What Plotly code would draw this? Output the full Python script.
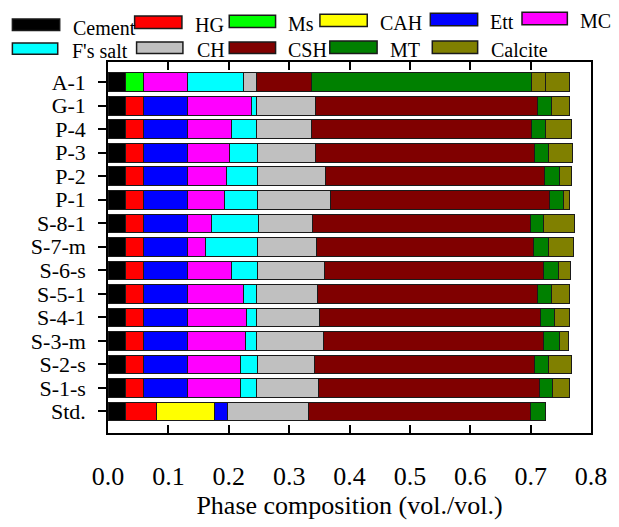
import plotly.graph_objects as go

# Sample names, listed top to bottom
samples = ["A-1", "G-1", "P-4", "P-3", "P-2", "P-1", "S-8-1", "S-7-m",
           "S-6-s", "S-5-1", "S-4-1", "S-3-m", "S-2-s", "S-1-s", "Std."]

# Phase volume fractions (vol./vol.) per sample, same order as samples
cement = [0.029] * 15
hg = [0.0, 0.029, 0.029, 0.029, 0.029, 0.029, 0.029, 0.029,
      0.029, 0.029, 0.029, 0.029, 0.029, 0.029, 0.051]
ms = [0.029, 0, 0, 0, 0, 0, 0, 0, 0, 0, 0, 0, 0, 0, 0]
cah = [0, 0, 0, 0, 0, 0, 0, 0, 0, 0, 0, 0, 0, 0, 0.097]
ett = [0.0, 0.074, 0.074, 0.074, 0.074, 0.074, 0.074, 0.074,
       0.074, 0.074, 0.074, 0.074, 0.074, 0.074, 0.021]
mc = [0.074, 0.106, 0.072, 0.069, 0.065, 0.061, 0.039, 0.029,
      0.072, 0.092, 0.097, 0.096, 0.087, 0.088, 0.0]
fs_salt = [0.093, 0.008, 0.042, 0.046, 0.050, 0.054, 0.078, 0.087,
           0.043, 0.022, 0.017, 0.018, 0.028, 0.026, 0.0]
ch = [0.021, 0.098, 0.091, 0.096, 0.113, 0.121, 0.089, 0.098,
      0.112, 0.101, 0.105, 0.111, 0.095, 0.102, 0.134]
csh = [0.091, 0.367, 0.364, 0.364, 0.363, 0.363, 0.361, 0.359,
       0.363, 0.365, 0.366, 0.365, 0.365, 0.366, 0.368]
mt = [0.365, 0.023, 0.023, 0.023, 0.024, 0.023, 0.023, 0.024,
      0.024, 0.023, 0.023, 0.025, 0.023, 0.022, 0.024]
calcite = [0.023, 0.030, 0.044, 0.039, 0.020, 0.011, 0.051, 0.042,
           0.020, 0.029, 0.025, 0.016, 0.037, 0.028, 0.0]
calcite_extra = [0.040, 0, 0, 0, 0, 0, 0, 0, 0, 0, 0, 0, 0, 0, 0]

phase_names = ["Cement", "HG", "Ms", "CAH", "Ett", "MC",
               "F's salt", "CH", "CSH", "MT", "Calcite"]
phase_values = [cement, hg, ms, cah, ett, mc, fs_salt, ch, csh, mt, calcite]
phase_colors = ["#000000", "#FF0000", "#00FF00", "#FFFF00", "#0000FF", "#FF00FF",
                "#00FFFF", "#C0C0C0", "#800000", "#008000", "#808000"]

x_ticks = [0.0, 0.1, 0.2, 0.3, 0.4, 0.5, 0.6, 0.7, 0.8]

FONT = "Liberation Serif"
W, H = 619, 527
ML, MR, MT_, MB = 108, 21, 62, 77
PW, PH = W - ML - MR, H - MT_ - MB

fig = go.Figure()
for name, vals, col in zip(phase_names, phase_values, phase_colors):
    fig.add_trace(go.Bar(
        y=samples, x=vals, orientation="h", name=name,
        marker=dict(color=col, line=dict(color="#1a1a1a", width=1)),
        showlegend=False,
    ))
fig.add_trace(go.Bar(
    y=samples, x=calcite_extra, orientation="h", name="Calcite",
    marker=dict(color="#808000", line=dict(color="#1a1a1a", width=1)),
    showlegend=False,
))


def px_to_paper(px, py):
    return (px - ML) / PW, (H - MB - py) / PH


# Hand-placed legend: swatch box (x0, x1, y0, y1) and label anchor (x, y), in pixels
legend_layout = [
    ((11, 59, 17, 29), (70, 24)),
    ((135, 183, 14, 27), (194, 21)),
    ((231, 278, 13, 26), (289, 20)),
    ((323, 371, 12, 25), (382, 19)),
    ((435, 483, 11, 24), (494, 18)),
    ((528, 574, 10, 23), (585, 17)),
    ((11, 57, 42, 54), (69, 48)),
    ((137, 184, 41, 53), (196, 47)),
    ((231, 278, 41, 53), (289, 47)),
    ((333, 381, 40, 53), (392, 47)),
    ((437, 483, 40, 53), (495, 47)),
]
for name, col, (box, lab) in zip(phase_names, phase_colors, legend_layout):
    x0, y0 = px_to_paper(box[0], box[3])
    x1, y1 = px_to_paper(box[1], box[2])
    fig.add_shape(type="rect", xref="paper", yref="paper",
                  x0=x0, x1=x1, y0=y0, y1=y1,
                  fillcolor=col, line=dict(color="#1a1a1a", width=1.5))
    tx, ty = px_to_paper(lab[0], lab[1] + 2)
    fig.add_annotation(xref="paper", yref="paper", x=tx, y=ty,
                       text=name, showarrow=False, xanchor="left", yanchor="middle",
                       font=dict(family=FONT, size=20, color="black"))

fig.update_layout(
    width=W, height=H,
    margin=dict(l=ML, r=MR, t=MT_, b=MB),
    barmode="stack", bargap=0.21,
    plot_bgcolor="white", paper_bgcolor="white",
    font=dict(family=FONT, color="black"),
    xaxis=dict(
        range=[0, 0.8], tickvals=x_ticks, tickformat=".1f",
        ticks="inside", ticklen=8, tickwidth=1.5, tickcolor="black",
        showline=True, linecolor="black", linewidth=1.5, mirror="ticks",
        showgrid=False, zeroline=False,
        tickfont=dict(family=FONT, size=26),
        ticklabelstandoff=19,
        title=dict(text="Phase composition (vol./vol.)",
                   font=dict(family=FONT, size=26), standoff=6),
    ),
    yaxis=dict(
        type="category", tickmode="array", tickvals=samples, ticktext=samples,
        categoryorder="array", categoryarray=samples,
        range=[14.92, -0.86],
        ticks="outside", ticklen=8, tickwidth=1.5, tickcolor="black",
        showline=True, linecolor="black", linewidth=1.5, mirror=True,
        showgrid=False, zeroline=False,
        tickfont=dict(family=FONT, size=22),
        ticklabelstandoff=8,
    ),
)

fig.write_html("out.html")
